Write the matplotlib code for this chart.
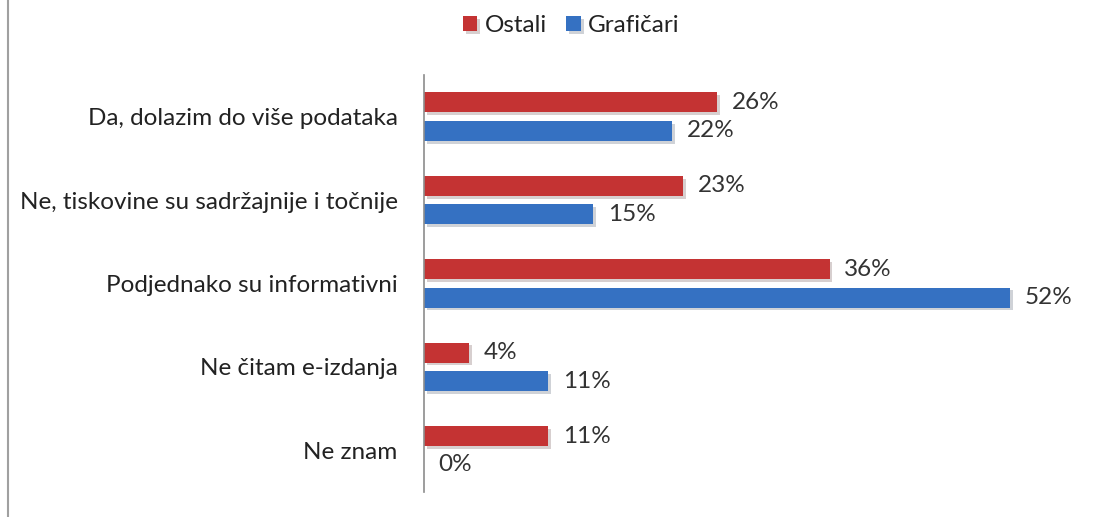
import matplotlib.pyplot as plt
import matplotlib.patheffects as pe
from matplotlib.lines import Line2D
import numpy as np

plt.rcParams['font.family'] = ['Lato', 'DejaVu Sans']

categories = ['Da, dolazim do više podataka',
              'Ne, tiskovine su sadržajnije i točnije',
              'Podjednako su informativni',
              'Ne čitam e-izdanja',
              'Ne znam']
ostali = [26, 23, 36, 4, 11]
graficari = [22, 15, 52, 11, 0]
series_names = ['Ostali', 'Grafičari']

red = '#C43333'
blue = '#3571C2'
fs = 17.5

fig = plt.figure(figsize=(11.18, 5.17), dpi=100)
ax = fig.add_axes([0.3792, 0.0484, 0.6048, 0.8066])

y = np.arange(len(categories))
h = 0.24
off = 0.17
shadow = [pe.SimplePatchShadow(offset=(2, -2), alpha=0.2), pe.Normal()]

b1 = ax.barh(y - off, ostali, height=h, color=red, label=series_names[0],
             path_effects=shadow)
b2 = ax.barh(y + off, graficari, height=h, color=blue, label=series_names[1],
             path_effects=shadow)

for bars, vals in ((b1, ostali), (b2, graficari)):
    for b, v in zip(bars, vals):
        ax.text(v + 1.3, b.get_y() + b.get_height() / 2, f'{v}%',
                va='center', ha='left', fontsize=fs, color='#333333')

ax.set_ylim(len(categories) - 0.5, -0.5)
ax.set_xlim(0, 60)
ax.set_yticks(y)
ax.set_yticklabels(categories, fontsize=fs, color='#222222')
ax.tick_params(axis='y', length=0, pad=19)
ax.set_xticks([])
for s in ('top', 'right', 'bottom'):
    ax.spines[s].set_visible(False)
ax.spines['left'].set_color('#8c8c8c')
ax.spines['left'].set_linewidth(1.2)

leg = fig.legend(handles=[b1, b2], loc='center', bbox_to_anchor=(0.511, 0.95),
                 ncol=2, frameon=False, fontsize=fs, handlelength=0.6,
                 handleheight=0.6, handletextpad=0.3, columnspacing=0.8)
for t in leg.get_texts():
    t.set_color('#222222')

fig.add_artist(Line2D([0.0075, 0.0075], [0, 1], transform=fig.transFigure,
                      color='#a0a0a0', lw=1.5))

fig.savefig('out.png', dpi=100)
